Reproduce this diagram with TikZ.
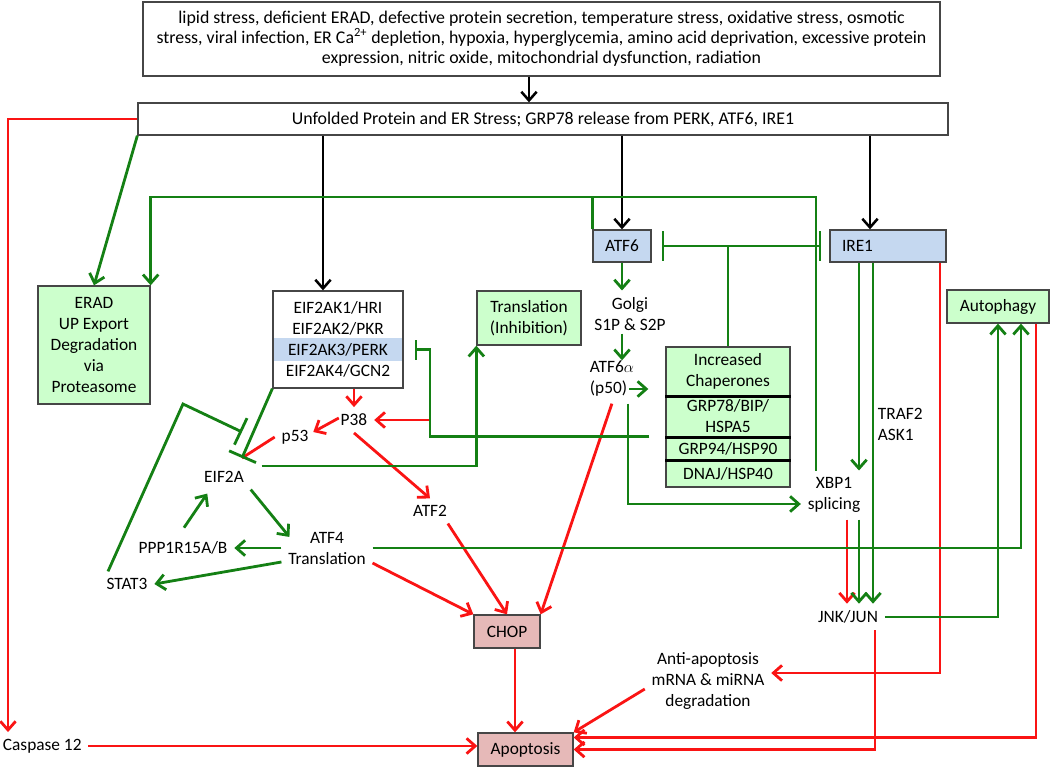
\documentclass[tikz,border=0pt]{standalone}
\usepackage{fontspec}
\setmainfont{Carlito}
\usetikzlibrary{arrows.meta}

\definecolor{grn}{RGB}{20,128,20}
\definecolor{rd}{RGB}{250,20,20}
\definecolor{boxgreen}{RGB}{204,255,204}
\definecolor{boxblue}{RGB}{197,216,240}
\definecolor{boxpink}{RGB}{230,185,184}
\definecolor{edge}{RGB}{70,70,70}

\tikzset{>={Straight Barb[length=6.5pt,width=11.5pt]}}
\tikzset{
  box/.style={draw=edge, line width=1pt, align=center, inner sep=0pt,
    font=\fontsize{13}{15.75}\selectfont},
  lbl/.style={align=center, inner sep=5pt, font=\fontsize{13}{15.75}\selectfont},
  blk/.style={draw=black, line width=1.9pt, ->},
  rdl/.style={draw=rd, line width=2.1pt, ->},
  grl/.style={draw=grn, line width=2.1pt, ->},
  inh/.style={draw=grn, line width=2.1pt, -{Bar[width=#1]}},
  inh/.default=22pt,
  sep/.style={draw=black, line width=2.2pt}
}

\begin{document}
\begin{tikzpicture}[x=0.75pt,y=-0.75pt,line cap=butt,line join=miter]
	\useasboundingbox (0,0) rectangle (1050,767);
	% boxes
	\node[box, minimum width=597.75pt, minimum height=55.5pt,
	      font=\fontsize{13.4}{15}\selectfont] (stress) at (541.5,39)
	  {lipid stress, deficient ERAD, defective protein secretion, temperature stress, oxidative stress, osmotic\\
	   stress, viral infection, ER Ca\textsuperscript{2+} depletion, hypoxia, hyperglycemia, amino acid deprivation, excessive protein\\
	   expression, nitric oxide, mitochondrial dysfunction, radiation};
	\node[box, minimum width=607.5pt, minimum height=24pt,
	      font=\fontsize{13.4}{15}\selectfont] (upr) at (543,119)
	  {Unfolded Protein and ER Stress; GRP78 release from PERK, ATF6, IRE1};
	\node[box, fill=boxgreen, minimum width=84pt, minimum height=88.5pt] (erad) at (94,345)
	  {ERAD\\UP Export\\Degradation\\via\\Proteasome};
	\node[fill=boxblue, inner sep=0pt, minimum width=96.4pt, minimum height=17.25pt] (perk) at (338,349.5) {};
	\node[box, minimum width=97.5pt, minimum height=72.75pt] (eif) at (338,339.5)
	  {EIF2AK1/HRI\\EIF2AK2/PKR\\EIF2AK3/PERK\\EIF2AK4/GCN2};
	\node[box, fill=boxgreen, minimum width=78pt, minimum height=40.5pt] (trl) at (529,318)
	  {Translation\\(Inhibition)};
	\node[box, fill=boxblue, minimum width=43.5pt, minimum height=24pt] (atf6) at (622,246) {ATF6};
	\node[box, fill=boxblue, minimum width=87pt, minimum height=24pt, text width=69pt, align=left] (ire1) at (888,246) {IRE1};
	\node[box, fill=boxgreen, minimum width=76.5pt, minimum height=24.75pt] (aut) at (998,306.5) {Autophagy};
	\node[box, fill=boxgreen, minimum width=93pt, minimum height=36.75pt] (chp1) at (728,371.5) {Increased\\Chaperones};
	\node[box, fill=boxgreen, minimum width=93pt, minimum height=30.75pt] (chp2) at (728,416.5) {GRP78/BIP/\\HSPA5};
	\node[box, fill=boxgreen, minimum width=93pt, minimum height=17.25pt] (chp3) at (728,448.5) {GRP94/HSP90};
	\node[box, fill=boxgreen, minimum width=93pt, minimum height=20.25pt] (chp4) at (728,473.5) {DNAJ/HSP40};
	\draw[sep] (chp1.south west) -- (chp1.south east);
	\draw[sep] (chp2.south west) -- (chp2.south east);
	\draw[sep] (chp3.south west) -- (chp3.south east);
	\node[box, fill=boxpink, minimum width=49.5pt, minimum height=24.75pt] (chop) at (507,631.5) {CHOP};
	\node[box, fill=boxpink, minimum width=71.25pt, minimum height=24.75pt] (apop) at (525.5,749.5) {Apoptosis};
	% labels
	\node[lbl] (golgi) at (630,314) {Golgi\\S1P \& S2P};
	\node[lbl, align=left, anchor=west] (atfa) at (583,379) {ATF6$\alpha$\\(p50)};
	\node[lbl] (xbp) at (834,495) {XBP1\\splicing};
	\node[lbl, align=left, anchor=west] (traf) at (871,424) {TRAF2\\ASK1};
	\node[lbl] (jnk) at (848,617) {JNK/JUN};
	\node[lbl] (anti) at (708,681) {Anti-apoptosis\\mRNA \& miRNA\\degradation};
	\node[lbl, anchor=west] (cas) at (-4,746) {Caspase 12};
	\node[lbl] (p38) at (354,420) {P38};
	\node[lbl] (p53) at (295,437) {p53};
	\node[lbl] (eif2a) at (224,477) {EIF2A};
	\node[lbl] (atf2) at (430,511) {ATF2};
	\node[lbl] (atf4) at (327,548) {ATF4\\Translation};
	\node[lbl] (ppp) at (183,548) {PPP1R15A/B};
	\node[lbl] (stat) at (127,584) {STAT3};
	% columns, rows and bends
	\coordinate (c0) at (529,0);
	\coordinate (c1) at (323,0);
	\coordinate (c2) at (870,0);
	\coordinate (c3) at (515,0);
	\coordinate (cL) at (8,0);
	\coordinate (cX) at (847,0);
	\coordinate (cY) at (859,0);
	\coordinate (cT) at (873,0);
	\coordinate (cR) at (940,0);
	\coordinate (cJ) at (875,0);
	\coordinate (cA) at (1036,0);
	\coordinate (cP) at (628,0);
	\coordinate (cK) at (430,0);
	\coordinate (cB) at (816,0);
	\coordinate (rT) at (0,197);
	\coordinate (rX) at (0,504);
	\coordinate (kink) at (183,404);
	\coordinate (inh1) at (242,432);
	\coordinate (inh2) at (242,458);
	\coordinate (p50r) at ([shift={(46,10)}]atfa.west);
	% black
	\draw[blk] (stress.south -| c0) -- (upr.north -| c0);
	\draw[blk] (upr.south -| c1) -- (eif.north -| c1);
	\draw[blk] (upr.south -| atf6.north) -- (atf6.north);
	\draw[blk] (upr.south -| c2) -- (ire1.north -| c2);
	% red
	\draw[rdl] (upr.west) -| (cas.north -| cL);
	\draw[rdl] (cas.east) -- (cas.east -| apop.west);
	\draw[rdl] (chop.south -| c3) -- (apop.north -| c3);
	\draw[rdl] (eif.south -| p38.north) -- (p38.north);
	\draw[rdl] (cK |- p38.east) -- (p38.east);
	\draw[rdl] ([shift={(5,-2)}]p38.west) -- ([shift={(-2,-5)}]p53.east);
	\draw[rdl,-] (p53.west) -- (inh2);
	\draw[rdl] (p38.south) -- (atf2.north);
	\draw[rdl] ([shift={(-6,0)}]atf2.south east) -- (chop.north);
	\draw[rdl] ([shift={(0,-8)}]atf4.south east) -- (chop.north west);
	\draw[rdl] (atfa.south) -- (chop.north east);
	\draw[rdl] (xbp.south -| cX) -- (jnk.north -| cX);
	\draw[rdl] (ire1.south -| cR) |- ([shift={(0,-8)}]anti.east);
	\draw[rdl] ([shift={(0,8)}]anti.west) -- (apop.north east);
	\draw[rdl] (aut.south -| cA) |- ([shift={(0,-12)}]apop.east);
	\draw[rdl] (jnk.south -| cJ) |- (apop.east);
	% green
	\draw[grl] (upr.south west) -- (erad.north);
	\draw[grl] (xbp.north -| cB) -- (cB |- rT) -| (erad.north east);
	\draw[grl,-] (atf6.north west) -- (atf6.north west |- rT);
	\draw[grl] (atf6.south) -- (atf6.south |- golgi.north);
	\draw[grl] ([shift={(0,-4)}]golgi.south -| atf6.south) -- ([shift={(0,6)}]atfa.north -| atf6.south);
	\draw[grl] (p50r) -- ([xshift=-12.75pt]p50r -| chp1.west);
	\draw[grl] (atfa.south -| cP) |- (xbp.west |- rX);
	\draw[inh] (chp1.north) |- ([shift={(10,0)}]atf6.east);
	\draw[inh] (chp1.north |- atf6.east) -- ([shift={(-8,0)}]ire1.west);
	\draw[inh=15pt] ([shift={(-16,0)}]chp3.north west) -| (cK |- perk.east) -- ([shift={(12,0)}]perk.east);
	\draw[grl] ([shift={(11,-11)}]eif2a.east) -| (trl.south west);
	\draw[grl] (eif2a.south east) -- ([shift={(8,12)}]atf4.north west);
	\draw[grl] ([shift={(1,-7)}]ppp.north) -- ([shift={(10,4)}]eif2a.south west);
	\draw[grl] (atf4.west) -- (ppp.east);
	\draw[grl] ([shift={(0,14)}]atf4.west) -- (stat.east);
	\draw[inh] ([shift={(-19,0)}]stat.north) -- (kink) -- (inh1);
	\draw[inh] (eif.south west) -- (inh2);
	\draw[grl] (atf4.east) -| ([shift={(23,0)}]aut.south);
	\draw[grl] (jnk.east) -| (aut.south);
	\draw[grl] (ire1.south -| cY) -- (xbp.north -| cY);
	\draw[grl] (ire1.south -| cT) -- (jnk.north -| cT);
	\draw[grl] (xbp.south -| cY) -- (jnk.north -| cY);
\end{tikzpicture}
\end{document}
